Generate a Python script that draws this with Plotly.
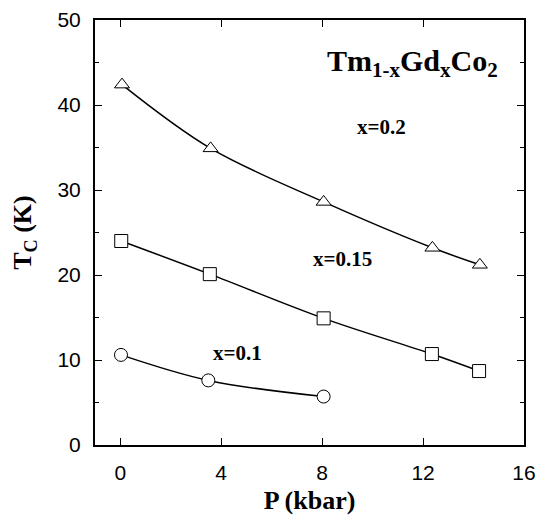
import plotly.graph_objects as go

# Data
p_x02 = [0.07, 3.58, 8.06, 12.37, 14.25]
tc_x02 = [42.4, 34.9, 28.6, 23.2, 21.2]

p_x015 = [0.04, 3.55, 8.06, 12.35, 14.22]
tc_x015 = [24.0, 20.1, 14.9, 10.7, 8.7]

p_x01 = [0.03, 3.49, 8.06]
tc_x01 = [10.6, 7.6, 5.7]

x_ticks = [0, 4, 8, 12, 16]
y_ticks = [0, 10, 20, 30, 40, 50]

series = [
    (p_x02, tc_x02, "triangle-up"),
    (p_x015, tc_x015, "square"),
    (p_x01, tc_x01, "circle"),
]

fig = go.Figure()
for xs, ys, sym in series:
    fig.add_trace(go.Scatter(
        x=xs, y=ys, mode="lines+markers",
        line=dict(color="black", width=1.5, shape="spline", smoothing=1.0),
        marker=dict(symbol=sym, size=13, color="white",
                    line=dict(color="black", width=1)),
        showlegend=False,
    ))

serif = "Liberation Serif"
labels = [
    (10.34, 37.4, "x=0.2"),
    (8.79, 21.9, "x=0.15"),
    (4.66, 10.8, "x=0.1"),
]
for lx, ly, txt in labels:
    fig.add_annotation(x=lx, y=ly, text="<b>%s</b>" % txt, showarrow=False,
                       font=dict(family=serif, size=21, color="black"))

fig.add_annotation(x=11.59, y=45.0,
                   text="<b>Tm<sub>1-x</sub>Gd<sub>x</sub>Co<sub>2</sub></b>",
                   showarrow=False,
                   font=dict(family=serif, size=30, color="black"))

fig.update_layout(
    width=537, height=519,
    margin=dict(l=95, r=13, t=20, b=74),
    paper_bgcolor="white", plot_bgcolor="white",
    font=dict(family="Liberation Sans", color="black"),
)
fig.update_xaxes(
    range=[-1, 16], tickvals=x_ticks, ticktext=[str(v) for v in x_ticks],
    ticks="inside", ticklen=7, tickwidth=1, tickcolor="black",
    showline=True, linecolor="black", linewidth=2, mirror="allticks",
    showgrid=False, zeroline=False, automargin=False,
    ticklabelstandoff=8,
    tickfont=dict(family="Liberation Sans", size=21),
    title=dict(text="<b>P (kbar)</b>", font=dict(family=serif, size=26), standoff=8),
)
fig.update_yaxes(
    range=[0, 50], tickvals=y_ticks, ticktext=[str(v) for v in y_ticks],
    ticks="inside", ticklen=7, tickwidth=1, tickcolor="black",
    minor=dict(dtick=5, ticks="inside", ticklen=4, tickcolor="black", showgrid=False),
    showline=True, linecolor="black", linewidth=2, mirror="allticks",
    showgrid=False, zeroline=False, automargin=False,
    ticklabelstandoff=8,
    tickfont=dict(family="Liberation Sans", size=21),
    title=dict(text="<b>T<sub>C</sub> (K)</b>", font=dict(family=serif, size=26), standoff=18),
)

fig.write_html("out.html", config={"displayModeBar": False},
               post_script="document.body.style.margin='0';document.body.style.overflow='hidden';")
